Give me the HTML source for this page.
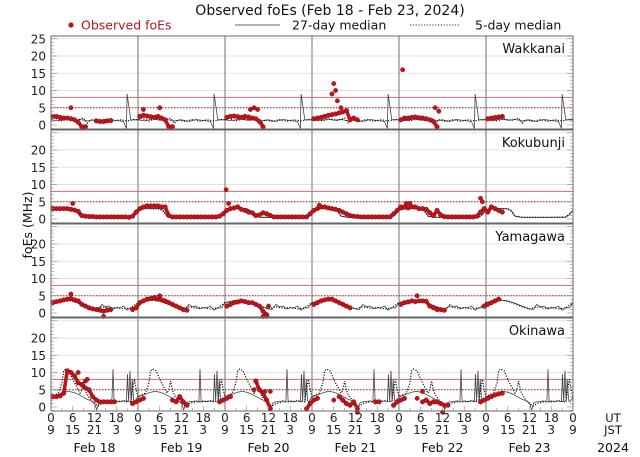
<!DOCTYPE html>
<html><head><meta charset="utf-8">
<style>
html,body{margin:0;padding:0;background:#fff;width:640px;height:457px;overflow:hidden;font-family:"DejaVu Sans","Liberation Sans",sans-serif;}
svg{display:block}
</style></head>
<body>
<svg id="chart" width="640" height="457" viewBox="0 0 640 457" xmlns="http://www.w3.org/2000/svg" font-family="DejaVu Sans, Liberation Sans, sans-serif">
<text x="330" y="15" font-size="14" text-anchor="middle" fill="#111">Observed foEs (Feb 18 - Feb 23, 2024)</text>
<g>
<circle cx="71" cy="25" r="2.6" fill="#c0141b"/>
<text x="81" y="29.5" font-size="12.5" fill="#b01820">Observed foEs</text>
<line x1="235" y1="25" x2="280" y2="25" stroke="#333" stroke-width="0.8"/>
<text x="292" y="29.5" font-size="12.5" fill="#111">27-day median</text>
<line x1="410" y1="25" x2="460" y2="25" stroke="#333" stroke-width="1" stroke-dasharray="1.2,1.6"/>
<text x="475" y="29.5" font-size="12.5" fill="#111">5-day median</text>
</g>
<text transform="translate(32,225) rotate(-90)" font-size="12.5" text-anchor="middle" fill="#111">foEs (MHz)</text>
<g id="panels"></g>
<g id="xaxis"></g>
</svg>
<script>
const _ = null;
const stations = ["Wakkanai","Kokubunji","Yamagawa","Okinawa"];
const dayLabels = ["Feb 18","Feb 19","Feb 20","Feb 21","Feb 22","Feb 23"];
const utTicks = ["0","6","12","18"];
const jstTicks = ["9","15","21","3"];
const solidRef = 8;
const dottedRef = 5;

// 27-day median: [hour, value] pairs for one UT day (repeats daily)
const wkMed27T = [0,2,4,6,8,10,12,14,16,18,20,20.8,21,22,24];
const wkMed27V = [1.5,1.2,1.8,1.4,1.6,1.2,1.5,1.0,1.6,1.3,1.0,-1,9,1.5,1.5];
const koMed27T = [0,2,4,6,7,8,10,14,18,22,23,24];
const koMed27V = [2.5,3,3,3,2.5,0.8,0.5,0.5,0.5,0.5,1.2,2.5];
const yaMed27T = [0,2,4,6,8,10,12,13,14,15,16,17,18,19,20,21,22,23,24];
const yaMed27V = [3,3.5,3.8,3.5,2.8,2,1.2,1,2.5,1.8,2,1.2,1.5,1.5,2,0.8,1.5,1.5,3];
const okMed27T = [0,1,2,3,4,5,6,7,8,9,10,11,12,12.6,13.2,14,15,16,16.8,17.1,17.4,18,19,20,20.8,21.1,21.4,21.8,22.1,22.4,22.8,23.1,23.4,24];
const okMed27V = [3,3.3,3.7,4.1,4.4,4.5,4.3,3.9,3.4,2.8,2.2,1.8,1.2,-0.8,1.2,1.5,1.6,1.8,1.5,11,1.5,1.8,1.5,1.8,1.5,9.5,1.5,10.5,1.5,8,1.8,1.5,2,3];

// 5-day median: [hour, value] pairs
const wkMed5T = [0,1,3,5,7,9,10,11,13,15,17,19,21,23,24];
const wkMed5V = [1.5,2,1.2,1.8,1.3,2,0.5,1.5,1,1.6,1.1,1.5,1.2,1.6,1.5];
const koMed5T = [0,2,4,6,7,8,10,14,18,22,23,24];
const koMed5V = [2.6,3.1,3,2.9,2.2,0.8,0.5,0.5,0.5,0.6,1.5,2.6];
const yaMed5T = [0,2,4,6,8,10,12,14,16,18,20,22,24];
const yaMed5V = [3,3.4,3.7,3.4,2.6,1.8,1.2,1.8,1.4,1.6,1.2,1.5,3];
const okMed5T = [0,1,2,3,3.5,4,5,6,7,8,8.5,9,9.5,10,11,12,13,14,16,18,20,22,22.5,23,23.5,24];
const okMed5V = [3,3.5,4,7,10.5,11,10.5,8,6,4,5,7.5,5,3.5,2,1,0.3,1,1.5,1.5,1.8,1.5,5,8,5,3];

// Observed foEs: hourly values per day (6 days x 24h, UT), null = no data
const wkObs = [
 2.5,2.5,2.2,2,2,1.8,1.5,0.8,-0.5,-0.5,_,_,1.2,1,1,1.2,1.3,_,_,_,_,_,_,_,
 2.5,2.8,2.6,2.4,2.2,2.5,2,1.5,-0.5,-0.5,_,_,_,_,_,_,_,_,_,_,_,_,_,_,
 2.2,2.5,2.6,2.4,2.2,2.5,2.3,2,1.8,1,-0.5,_,_,_,_,_,_,_,_,_,_,_,_,_,
 1.8,2,2.2,2.5,2.8,3,3.2,3.5,3.8,4.2,1.5,2,1.5,_,_,_,_,_,_,_,_,_,_,_,
 1.5,2,2,2.2,2.3,2.1,2,1.8,1.5,1,-0.5,_,_,_,_,_,_,_,_,_,_,_,_,_,
 1.8,2,2.2,2.3,2.5,_,_,_,_,_,_,_,_,_,_,_,_,_,_,_,_,_,_,_ ];
const wkOutT = [5.5,25.5,30,55,56,57,78,78.5,79,77.5,80,97,106,107];
const wkOutV = [5,4.5,5,4.5,5,4.5,12,10,7,9,5,16,5,4];

const koObs = [
 3,3,3,3,3,2.8,2.6,2.2,1,0.8,0.7,0.7,0.6,0.6,0.6,0.6,0.6,0.6,0.6,0.6,0.6,0.5,0.8,2,
 3,3.5,3.8,3.8,3.8,3.8,3.5,3.5,1,0.6,0.6,0.6,0.6,0.6,0.6,0.6,0.6,0.6,0.6,0.6,0.6,0.6,0.8,1.5,
 2.5,3,3.2,3.5,2.8,2.5,2,1.8,1,1.2,1.8,1.5,1,0.6,0.6,0.6,0.6,0.6,0.6,0.6,0.6,0.6,0.6,1.5,
 2.5,3,3.5,3.5,3.2,3,2.8,2.5,2,1.5,1,0.8,0.7,0.6,0.6,0.6,0.6,0.6,0.6,0.6,0.6,0.6,1.5,2.5,
 3.5,3.5,3.2,3.6,3.5,3,3,2.8,1.8,1,2.5,1.2,0.7,0.6,0.6,0.6,0.6,0.6,0.6,0.6,0.6,0.8,2,3,
 2,3.5,3,2.5,2,_,_,_,_,_,_,_,_,_,_,_,_,_,_,_,_,_,_,_ ];
const koOutT = [6,48.3,49,74,98,99,118.5,119];
const koOutV = [4.5,8.5,4.5,4,4.5,4.5,6,5];

const yaObs = [
 3,3.3,3.5,3.8,4,4.2,3.8,3.5,2.5,2,1.5,1.2,1,0.8,0.5,0.8,1,_,_,_,_,_,1,1.5,
 3,3.5,4,4.2,4.5,4,3.8,3.5,3,2.5,2,1.5,1,0.8,_,_,_,_,_,_,_,_,_,_,
 2,2.5,3,3.2,3.5,3.3,3,3,2.5,2,0.5,-0.5,_,_,_,_,_,_,_,_,_,_,_,_,
 2.5,3,3.5,3.8,4,4,3.5,3,2.5,2,1.5,_,_,_,_,_,_,_,_,_,_,_,_,_,
 2.5,3,3.2,3.5,3.3,3.5,3.5,3.4,2,1.5,1,1,0.8,_,_,_,_,_,_,_,_,_,_,2,
 2.5,3,3.5,4,_,_,_,_,_,_,_,_,_,_,_,_,_,_,_,_,_,_,_,_ ];
const yaOutT = [5.5,14.5,30,58.5,59.5,60,101];
const yaOutV = [5.5,-1,5,-1,-1,2,5];

const okObs = [
 3,3,3.2,4,10.5,10,9,7,6.5,5.5,5,3,2,1.5,1.5,1.5,1.5,1.5,_,_,_,_,1,1.5,
 2,2.5,_,_,_,_,_,_,_,2,1.5,3,1.5,0.5,_,_,_,_,_,_,_,_,1.5,2,
 2.5,3,_,_,_,_,_,_,7.5,5,4,2,-0.5,_,_,_,_,_,_,_,_,_,-0.5,1,
 2,2.5,_,_,_,_,_,3,2,1,0.5,1.5,-0.5,_,_,_,_,1.5,1.5,_,_,_,0.5,1.5,
 2,2.5,_,_,_,_,1.5,2,1,1.5,1.5,1,0.5,0.5,_,_,_,_,_,_,_,_,1.5,2,
 2.5,3,3.5,3.8,4,_,_,_,_,_,_,_,_,_,_,_,_,_,_,_,_,_,_,_ ];
const okOutT = [7.5,9.5,10,56.5,56,59,60.5,78,84.5,101,102.5,108];
const okOutV = [10,7.5,8,7.5,5,4.5,4.5,2,-1.5,2.5,4.5,-1.5];

const medSolid = [[wkMed27T,wkMed27V],[koMed27T,koMed27V],[yaMed27T,yaMed27V],[okMed27T,okMed27V]];
const medDot = [[wkMed5T,wkMed5V],[koMed5T,koMed5V],[yaMed5T,yaMed5V],[okMed5T,okMed5V]];
const obsAll = [wkObs,koObs,yaObs,okObs];
const outAll = [[wkOutT,wkOutV],[koOutT,koOutV],[yaOutT,yaOutV],[okOutT,okOutV]];

const NS = "http://www.w3.org/2000/svg";
const X0 = 51, X1 = 573, DAYS = 6;
const xs = h => X0 + h * (X1 - X0) / (DAYS * 24);
const PT = i => 36 + 94 * i;
const ys = (i, v) => PT(i) + 89 - v * 3.45;
function mk(tag, attrs, parent){ const e=document.createElementNS(NS,tag); for(const k in attrs) e.setAttribute(k,attrs[k]); parent.appendChild(e); return e; }

const panels = document.getElementById("panels");
stations.forEach((name, i) => {
  const g = mk("g", {}, panels);
  
  
  const top = PT(i), bot = PT(i) + 93;
  for (let v = 5; v <= 25; v += 5) {
    const gl = mk("line", {x1:X0, x2:X1, y1:ys(i,v), y2:ys(i,v), stroke:"#e2e2e2", "stroke-width":1}, g);
    
    
  }
  for (let d = 1; d < DAYS; d++) {
    const dl = mk("line", {x1:xs(d*24), x2:xs(d*24), y1:top, y2:bot, stroke:"#888", "stroke-width":1.2}, g);
    
    
  }
  const r1 = mk("line", {x1:X0, x2:X1, y1:ys(i,solidRef), y2:ys(i,solidRef), stroke:"#c07070", "stroke-width":1}, g);
  
  
  const r2 = mk("line", {x1:X0, x2:X1, y1:ys(i,dottedRef), y2:ys(i,dottedRef), stroke:"#a02020", "stroke-width":1, "stroke-dasharray":"1.5,1.5"}, g);
  
  
  function medPath(T, V, dash, nm){
    let d = "";
    for (let day = 0; day < DAYS; day++) for (let k = 0; k < T.length; k++) {
      d += (d ? "L" : "M") + xs(day*24 + T[k]).toFixed(1) + "," + ys(i, V[k]).toFixed(1);
    }
    const p = mk("path", {d:d, fill:"none", stroke: dash ? "#111" : "#444", "stroke-width": dash ? 1.2 : 0.8, "stroke-dasharray": dash ? "1.2,1.5" : "none"}, g);
    
    
  }
  medPath(medSolid[i][0], medSolid[i][1], false, "median-27day-line");
  medPath(medDot[i][0], medDot[i][1], true, "median-5day-line");
  // observed: dense band connecting consecutive hourly observations
  const obs = obsAll[i];
  let d = "", prev = false;
  for (let h = 0; h < obs.length; h++) {
    if (obs[h] === null) { prev = false; continue; }
    d += (prev ? "L" : "M") + xs(h+0.5).toFixed(1) + "," + ys(i,obs[h]).toFixed(1);
    if (!prev) d += "l0.1,0";
    prev = true;
  }
  const band = mk("path", {d:d, fill:"none", stroke:"#c0141b", "stroke-width":3.6, "stroke-linecap":"round", "stroke-linejoin":"round"}, g);
  
  
  for (let h = 0; h < obs.length; h++) {
    if (obs[h] === null) continue;
    const c = mk("circle", {cx:xs(h+0.5), cy:ys(i,obs[h]), r:2.3, fill:"#c0141b", stroke:"#7a0a0e", "stroke-width":0.4}, g);
    
    
  }
  const ot = outAll[i][0], ov = outAll[i][1];
  for (let k = 0; k < ot.length; k++) {
    const c = mk("circle", {cx:xs(ot[k]), cy:ys(i,ov[k]), r:2.2, fill:"#c0141b", stroke:"#7a0a0e", "stroke-width":0.4}, g);
    
    
  }
  const fr = mk("rect", {x:X0, y:top, width:X1-X0, height:93, fill:"none", stroke:"#666", "stroke-width":1}, g);
  
  
  for (let v = -1; v <= 25; v++) {
    const len = v % 5 === 0 ? 6 : 3;
    mk("line", {x1:X0, x2:X0+len, y1:ys(i,v), y2:ys(i,v), stroke:"#888", "stroke-width":0.6}, g);
    mk("line", {x1:X1-len, x2:X1, y1:ys(i,v), y2:ys(i,v), stroke:"#888", "stroke-width":0.6}, g);
  }
  const tickVals = i === 0 ? [0,5,10,15,20,25] : [0,5,10,15,20];
  tickVals.forEach(v => {
    const t = mk("text", {x:46, y:ys(i,v)+4.5, "font-size":12, "text-anchor":"end", fill:"#222"}, g);
    t.textContent = v;
    
    
  });
  const st = mk("text", {x:565, y:top+17, "font-size":13, "text-anchor":"end", fill:"#111"}, g);
  st.textContent = name;
  
  
});

const xa = document.getElementById("xaxis");


const bottom = PT(3) + 93;
for (let h = 0; h <= DAYS*24; h += 3) {
  mk("line", {x1:xs(h), x2:xs(h), y1:bottom, y2:bottom-(h%6===0?5:3), stroke:"#888", "stroke-width":0.6}, xa);
}
for (let d = 0; d <= DAYS; d++) {
  for (let k = 0; k < 4; k++) {
    if (d === DAYS && k > 0) break;
    const x = xs(d*24 + k*6);
    const a = mk("text", {x:x, y:422, "font-size":12, "text-anchor":"middle", fill:"#222"}, xa);
    a.textContent = utTicks[k];
    
    
    const b = mk("text", {x:x, y:434, "font-size":12, "text-anchor":"middle", fill:"#222"}, xa);
    b.textContent = jstTicks[k];
    
    
  }
  if (d < DAYS) {
    const dl = mk("text", {x:xs(d*24+12), y:452, "font-size":12.5, "text-anchor":"middle", fill:"#111"}, xa);
    dl.textContent = dayLabels[d];
    
    
  }
}
[["UT",422,"ut-axis-label"],["JST",434,"jst-axis-label"],["2024",452,"year-label"]].forEach(([s,y,n]) => {
  const t = mk("text", {x:613, y:y, "font-size": n==="year-label"?12.5:11.5, "text-anchor":"middle", fill:"#111"}, xa);
  t.textContent = s;
  
  
});
</script>
</body></html>
